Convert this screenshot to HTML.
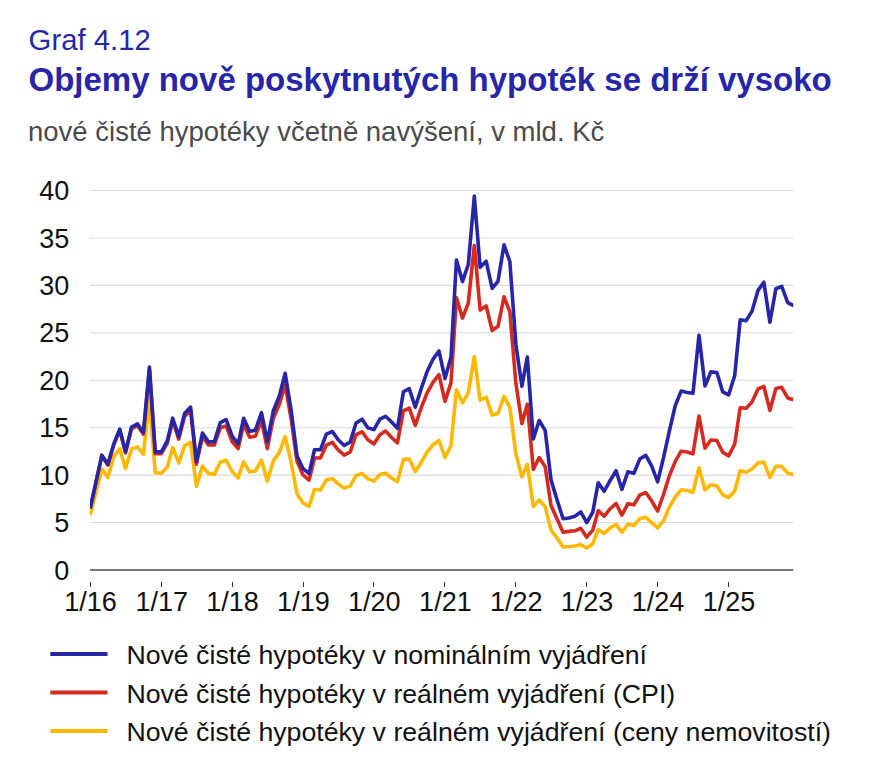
<!DOCTYPE html>
<html><head><meta charset="utf-8"><style>
html,body{margin:0;padding:0;background:#fff;}
body{width:889px;height:773px;overflow:hidden;position:relative;font-family:"Liberation Sans",Arial,sans-serif;}
.t{position:absolute;white-space:nowrap;line-height:1;}
#graf{left:28.6px;top:24.7px;font-size:29.3px;color:#2626a6;}
#title{left:28.5px;top:63.4px;font-size:33px;font-weight:bold;color:#2626a6;}
#sub{left:28px;top:118px;font-size:27.5px;color:#4a4a4a;}
svg{position:absolute;left:0;top:0;}
</style></head><body>
<div class="t" id="graf">Graf 4.12</div>
<div class="t" id="title">Objemy nově poskytnutých hypoték se drží vysoko</div>
<div class="t" id="sub">nové čisté hypotéky včetně navýšení, v mld. Kč</div>
<svg width="889" height="773" viewBox="0 0 889 773" font-family="Liberation Sans, Arial, sans-serif">
<line x1="90" x2="793.4" y1="522.56" y2="522.56" stroke="#dadada" stroke-width="1.1"/>
<line x1="90" x2="793.4" y1="475.12" y2="475.12" stroke="#dadada" stroke-width="1.1"/>
<line x1="90" x2="793.4" y1="427.69" y2="427.69" stroke="#dadada" stroke-width="1.1"/>
<line x1="90" x2="793.4" y1="380.25" y2="380.25" stroke="#dadada" stroke-width="1.1"/>
<line x1="90" x2="793.4" y1="332.81" y2="332.81" stroke="#dadada" stroke-width="1.1"/>
<line x1="90" x2="793.4" y1="285.38" y2="285.38" stroke="#dadada" stroke-width="1.1"/>
<line x1="90" x2="793.4" y1="237.94" y2="237.94" stroke="#dadada" stroke-width="1.1"/>
<line x1="90" x2="793.4" y1="190.50" y2="190.50" stroke="#dadada" stroke-width="1.1"/>

<line x1="90" x2="793.4" y1="570" y2="570" stroke="#777" stroke-width="2"/>
<line x1="90.5" x2="90.5" y1="582" y2="587" stroke="#333" stroke-width="1"/>
<line x1="161.5" x2="161.5" y1="582" y2="587" stroke="#333" stroke-width="1"/>
<line x1="232.5" x2="232.5" y1="582" y2="587" stroke="#333" stroke-width="1"/>
<line x1="303.5" x2="303.5" y1="582" y2="587" stroke="#333" stroke-width="1"/>
<line x1="373.5" x2="373.5" y1="582" y2="587" stroke="#333" stroke-width="1"/>
<line x1="444.5" x2="444.5" y1="582" y2="587" stroke="#333" stroke-width="1"/>
<line x1="515.5" x2="515.5" y1="582" y2="587" stroke="#333" stroke-width="1"/>
<line x1="586.5" x2="586.5" y1="582" y2="587" stroke="#333" stroke-width="1"/>
<line x1="657.5" x2="657.5" y1="582" y2="587" stroke="#333" stroke-width="1"/>
<line x1="728.5" x2="728.5" y1="582" y2="587" stroke="#333" stroke-width="1"/>

<g font-size="27" fill="#111">
<text x="69.2" y="579.6" text-anchor="end">0</text>
<text x="69.2" y="532.2" text-anchor="end">5</text>
<text x="69.2" y="484.7" text-anchor="end">10</text>
<text x="69.2" y="437.3" text-anchor="end">15</text>
<text x="69.2" y="389.9" text-anchor="end">20</text>
<text x="69.2" y="342.4" text-anchor="end">25</text>
<text x="69.2" y="295.0" text-anchor="end">30</text>
<text x="69.2" y="247.5" text-anchor="end">35</text>
<text x="69.2" y="200.1" text-anchor="end">40</text>

<text x="90.6" y="610.6" text-anchor="middle">1/16</text>
<text x="161.7" y="610.6" text-anchor="middle">1/17</text>
<text x="232.6" y="610.6" text-anchor="middle">1/18</text>
<text x="303.4" y="610.6" text-anchor="middle">1/19</text>
<text x="374.3" y="610.6" text-anchor="middle">1/20</text>
<text x="445.4" y="610.6" text-anchor="middle">1/21</text>
<text x="516.3" y="610.6" text-anchor="middle">1/22</text>
<text x="587.1" y="610.6" text-anchor="middle">1/23</text>
<text x="658.0" y="610.6" text-anchor="middle">1/24</text>
<text x="729.1" y="610.6" text-anchor="middle">1/25</text>

</g>
<defs><clipPath id="pa"><rect x="90" y="150" width="703.4" height="430"/></clipPath></defs>
<g fill="none" stroke-width="3.6" stroke-linejoin="round" stroke-linecap="butt" clip-path="url(#pa)">
<polyline stroke="#ffb800" points="90.20,514.97 96.22,491.25 101.85,468.96 107.87,477.50 113.70,456.62 119.72,448.75 125.54,468.39 131.56,449.03 137.58,446.85 143.41,454.25 149.43,400.46 155.25,472.75 161.27,473.23 167.29,467.06 172.73,447.61 178.75,462.79 184.58,445.90 190.60,442.49 196.42,486.23 202.44,466.11 208.46,473.42 214.29,474.37 220.31,461.94 226.13,460.32 232.15,471.52 238.17,477.97 243.61,461.84 249.63,471.80 255.46,470.86 261.48,460.04 267.30,481.20 273.32,460.89 279.34,452.36 285.17,436.61 291.19,462.51 297.01,494.01 303.03,503.02 309.05,506.43 314.49,489.55 320.51,490.02 326.34,479.96 332.36,478.54 338.18,483.85 344.20,488.12 350.22,486.13 356.05,475.41 362.07,473.42 367.89,478.83 373.91,481.10 379.93,474.56 385.56,473.23 391.58,477.97 397.41,481.86 403.43,459.38 409.26,459.09 415.28,471.61 421.30,462.22 427.12,452.07 433.14,444.76 438.97,440.50 444.99,457.48 451.01,445.43 456.44,389.74 462.46,402.83 468.29,392.87 474.31,356.53 480.14,400.17 486.16,397.42 492.18,415.07 498.00,413.46 504.02,396.47 509.85,407.57 515.87,453.97 521.89,476.83 527.32,464.31 533.34,506.43 539.17,500.08 545.19,506.62 551.02,530.15 557.04,538.12 563.06,546.95 568.88,546.57 574.90,546.00 580.73,544.48 586.75,547.99 592.77,543.72 598.20,529.68 604.22,533.38 610.05,527.97 616.07,524.27 621.89,532.33 627.91,524.27 633.93,525.50 639.76,518.67 645.78,517.25 651.61,522.66 657.63,527.78 663.65,520.66 669.28,507.38 675.30,496.95 681.12,489.83 687.14,490.49 692.97,492.20 698.99,467.72 705.01,490.02 710.83,484.80 716.85,485.85 722.68,494.86 728.70,497.52 734.72,490.97 740.16,470.76 746.18,472.28 752.00,469.05 758.02,462.98 763.85,462.13 769.87,477.40 775.89,466.40 781.71,466.40 787.73,473.13 793.56,474.84"/>
<polyline stroke="#d42a20" points="90.20,508.64 96.22,481.34 101.85,455.97 107.87,465.11 113.70,445.16 119.72,430.42 125.54,452.89 131.56,428.60 137.58,425.63 143.41,434.19 149.43,369.73 155.25,453.59 161.27,453.69 167.29,443.06 172.73,420.79 178.75,439.09 184.58,416.40 190.60,410.76 196.42,464.21 202.44,436.57 208.46,445.05 214.29,445.05 220.31,427.72 226.13,425.98 232.15,441.52 238.17,448.56 243.61,424.21 249.63,437.17 255.46,436.23 261.48,420.38 267.30,448.56 273.32,418.20 279.34,404.25 285.17,384.99 291.19,419.31 297.01,461.37 303.03,474.94 309.05,480.06 314.49,458.05 320.51,458.05 326.34,445.24 332.36,442.39 338.18,449.98 344.20,455.20 350.22,451.98 356.05,434.71 362.07,431.86 367.89,439.74 373.91,444.01 379.93,434.71 385.56,431.01 391.58,437.46 397.41,442.87 403.43,410.89 409.26,408.05 415.28,425.41 421.30,407.48 427.12,392.87 433.14,382.15 438.97,374.56 444.99,401.41 451.01,382.62 456.44,297.80 462.46,318.11 468.29,303.21 474.31,245.43 480.14,310.04 486.16,305.96 492.18,330.54 498.00,326.27 504.02,296.76 509.85,311.94 515.87,383.10 521.89,423.61 527.32,404.25 533.34,469.43 539.17,457.57 545.19,466.78 551.02,505.49 557.04,518.96 563.06,532.33 568.88,531.39 574.90,530.82 580.73,528.25 586.75,537.17 592.77,530.15 598.20,510.61 604.22,516.21 610.05,508.90 616.07,503.49 621.89,515.16 627.91,503.68 633.93,504.73 639.76,495.14 645.78,492.49 651.61,500.74 657.63,511.18 663.65,494.01 669.28,475.98 675.30,461.37 681.12,451.22 687.14,451.98 692.97,453.78 698.99,416.02 705.01,448.28 710.83,439.93 716.85,440.50 722.68,452.26 728.70,455.87 734.72,443.91 740.16,407.76 746.18,408.24 752.00,402.07 758.02,388.98 763.85,386.42 769.87,410.42 775.89,388.41 781.71,387.27 787.73,397.99 793.56,399.70"/>
<polyline stroke="#2626a6" points="90.20,508.33 96.22,480.82 101.85,455.20 107.87,464.31 113.70,444.10 119.72,429.11 125.54,451.69 131.56,427.02 137.58,423.89 143.41,432.43 149.43,366.97 155.25,451.88 161.27,451.88 167.29,440.97 172.73,418.20 178.75,436.70 184.58,413.46 190.60,407.10 196.42,461.37 202.44,433.00 208.46,441.73 214.29,441.73 220.31,422.66 226.13,419.53 232.15,436.13 238.17,443.82 243.61,418.29 249.63,431.58 255.46,429.96 261.48,412.70 267.30,441.54 273.32,410.80 279.34,396.00 285.17,373.32 291.19,410.61 297.01,455.68 303.03,468.67 309.05,473.70 314.49,449.70 320.51,449.70 326.34,434.14 332.36,431.48 338.18,439.74 344.20,445.52 350.22,442.01 356.05,422.94 362.07,419.15 367.89,427.88 373.91,429.58 379.93,419.15 385.56,416.30 391.58,422.00 397.41,428.35 403.43,391.73 409.26,388.60 415.28,407.29 421.30,388.41 427.12,371.52 433.14,359.09 438.97,350.93 444.99,378.64 451.01,356.91 456.44,260.04 462.46,281.58 468.29,264.50 474.31,196.10 480.14,267.35 486.16,261.18 492.18,288.41 498.00,281.30 504.02,244.77 509.85,261.66 515.87,344.20 521.89,386.13 527.32,357.10 533.34,439.07 539.17,420.48 545.19,430.44 551.02,479.87 557.04,499.89 563.06,518.77 568.88,517.91 574.90,516.21 580.73,511.94 586.75,522.56 592.77,512.22 598.20,482.72 604.22,491.25 610.05,480.72 616.07,470.76 621.89,489.36 627.91,471.80 633.93,473.23 639.76,459.09 645.78,455.39 651.61,465.92 657.63,481.77 663.65,457.10 669.28,431.48 675.30,405.49 681.12,391.07 687.14,392.58 692.97,393.34 698.99,335.18 705.01,385.94 710.83,371.90 716.85,372.47 722.68,391.82 728.70,394.77 734.72,375.51 740.16,319.81 746.18,320.67 752.00,311.18 758.02,290.40 763.85,282.24 769.87,322.19 775.89,288.70 781.71,286.42 787.73,302.74 793.56,305.58"/>
</g>
<g stroke-width="4">
<line x1="50.3" x2="107.5" y1="654" y2="654" stroke="#2626a6"/>
<line x1="50.3" x2="107.5" y1="692.6" y2="692.6" stroke="#d42a20"/>
<line x1="50.3" x2="107.5" y1="730.9" y2="730.9" stroke="#ffb800"/>
</g>
<g font-size="26.7" fill="#111">
<text x="126.4" y="664.2">Nové čisté hypotéky v nominálním vyjádření</text>
<text x="126.4" y="702.8">Nové čisté hypotéky v reálném vyjádření (CPI)</text>
<text x="126.4" y="741.1">Nové čisté hypotéky v reálném vyjádření (ceny nemovitostí)</text>
</g>
</svg>
</body></html>
